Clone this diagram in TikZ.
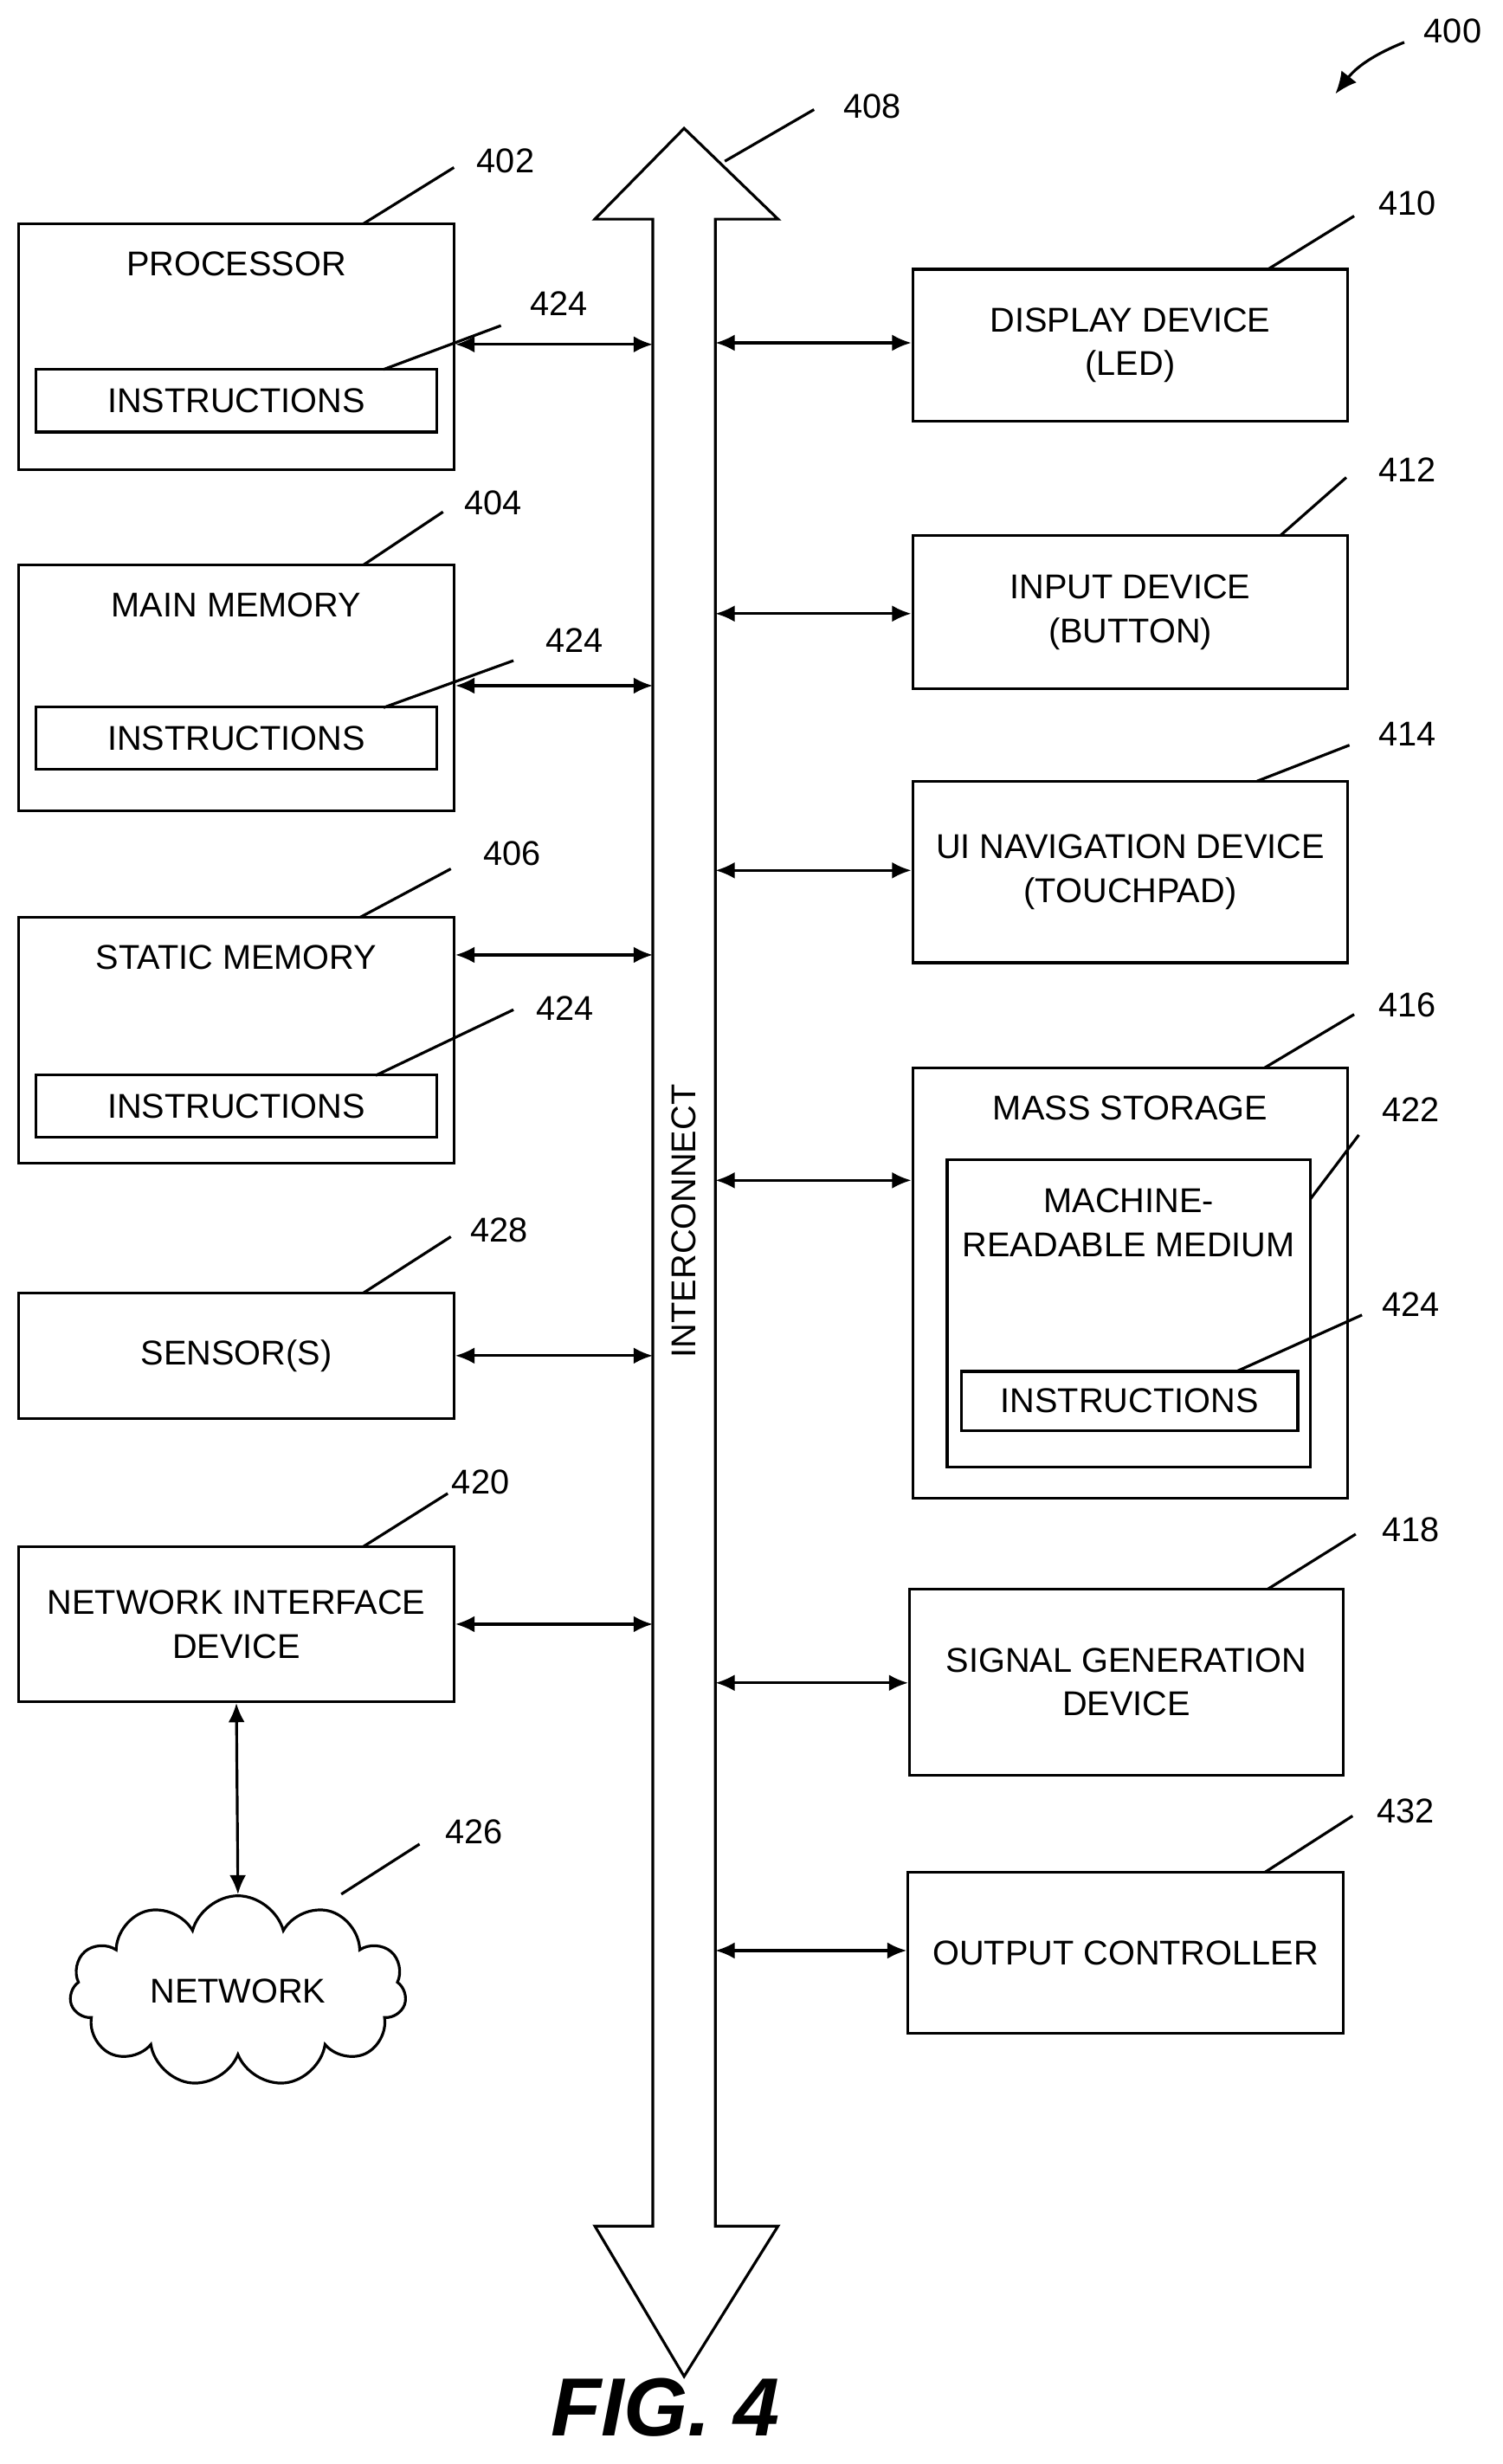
\documentclass[tikz,border=0pt]{standalone}
\usepackage{fontspec}
\setmainfont{Liberation Sans}
\usetikzlibrary{shapes.symbols, arrows.meta, positioning}
\tikzstyle{box} = [rectangle, draw, line width=1pt, minimum width=5.56cm, inner sep=0pt]
\tikzstyle{instr} = [rectangle, draw, line width=1pt, minimum width=5.12cm, minimum height=0.8cm, inner sep=0pt]
\tikzstyle{link} = [line width=1pt, <->, >={Latex[length=7pt,width=6pt]}]
\tikzstyle{lead} = [line width=1pt]
\tikzstyle{num} = [inner sep=1pt]
\begin{document}
\begin{tikzpicture}[x=0.02cm, y=-0.02cm, align=center, font=\fontsize{12.5}{16}\selectfont]
  \useasboundingbox (0,0) rectangle (960,1574);
  % interconnect
  \draw [line width=1pt, fill=white] (437,82) -- (497,140) -- (457,140) -- (457,1422) -- (497,1422) -- (437,1518) -- (380,1422) -- (417,1422) -- (417,140) -- (380,140) -- cycle;
  \node (bus) [rotate=90] at (437,780) {INTERCONNECT};
  \coordinate (busL) at (417,0);
  \coordinate (busR) at (457,0);
  % left column
  \node (proc) [box, minimum height=3.14cm] at (151,221.5) {};
  \node [below=0.25cm of proc.north] {PROCESSOR};
  \node (pins) [instr] at (151,256) {INSTRUCTIONS};
  \node (mmem) [box, minimum height=3.14cm] at (151,439.5) {};
  \node [below=0.25cm of mmem.north] {MAIN MEMORY};
  \node (mins) [instr] at (151,471.5) {INSTRUCTIONS};
  \node (smem) [box, minimum height=3.14cm] at (151,664.5) {};
  \node [below=0.25cm of smem.north] {STATIC MEMORY};
  \node (sins) [instr] at (151,706.5) {INSTRUCTIONS};
  \node (sens) [box, minimum height=1.6cm] at (151,866) {SENSOR(S)};
  \node (nic) [box, minimum height=1.98cm] at (151,1037.5) {NETWORK INTERFACE\\DEVICE};
  \node (net) [cloud, draw, line width=1pt, cloud puffs=11, aspect=2, minimum width=4.3cm, minimum height=2.3cm] at (152,1272) {NETWORK};
  % right column
  \node (disp) [box, minimum height=1.94cm] at (722,220.5) {DISPLAY DEVICE\\(LED)};
  \node (inp) [box, minimum height=1.96cm] at (722,391) {INPUT DEVICE\\(BUTTON)};
  \node (nav) [box, minimum height=2.32cm] at (722,557) {UI NAVIGATION DEVICE\\(TOUCHPAD)};
  \node (mass) [box, minimum height=5.5cm] at (722,819.5) {};
  \node [below=0.25cm of mass.north] {MASS STORAGE};
  \node (mrm) [rectangle, draw, line width=1pt, minimum width=4.64cm, minimum height=3.92cm] at (721,839) {};
  \node at (721,781) {MACHINE-\\READABLE MEDIUM};
  \node (mrins) [rectangle, draw, line width=1pt, minimum width=4.3cm, minimum height=0.76cm] at (721.5,895) {INSTRUCTIONS};
  \node (sig) [box, minimum width=5.54cm, minimum height=2.38cm] at (719.5,1074.5) {SIGNAL GENERATION\\DEVICE};
  \node (outc) [box, minimum height=2.06cm] at (719,1247.5) {OUTPUT CONTROLLER};
  % links
  \draw [link] (proc.east |- 0,220) -- (busL |- 0,220);
  \draw [link] (mmem.east |- 0,438) -- (busL |- 0,438);
  \draw [link] (smem.east |- 0,610) -- (busL |- 0,610);
  \draw [link] (sens.east) -- (busL |- sens.east);
  \draw [link] (nic.east) -- (busL |- nic.east);
  \draw [link] (nic.south) -- (net.north);
  \draw [link] (busR |- 0,219) -- (disp.west |- 0,219);
  \draw [link] (busR |- 0,392) -- (inp.west |- 0,392);
  \draw [link] (busR |- 0,556) -- (nav.west |- 0,556);
  \draw [link] (busR |- 0,754) -- (mass.west |- 0,754);
  \draw [link] (busR |- 0,1075) -- (sig.west |- 0,1075);
  \draw [link] (busR |- 0,1246) -- (outc.west |- 0,1246);
  % reference numerals
  \node (n400) [num] at (928,20) {400};
  \coordinate (n400tip) at (853,60);
  \draw [lead, -{Latex[length=8pt,width=7pt]}] ([xshift=-6pt,yshift=-4pt]n400.west) to[bend right=15] (n400tip);
  \node (n402) [num] at (323,103) {402};
  \draw [lead] (232,143) -- (290,107);
  \node (n424a) [num] at (357,194) {424};
  \draw [lead] (245,236) -- (320,208);
  \node (n404) [num] at (315,321) {404};
  \draw [lead] (232,361) -- (283,327);
  \node (n424b) [num] at (367,409) {424};
  \draw [lead] (245,452) -- (328,422);
  \node (n406) [num] at (327,545) {406};
  \draw [lead] (230,586) -- (288,555);
  \node (n424c) [num] at (361,644) {424};
  \draw [lead] (240,687) -- (328,645);
  \node (n428) [num] at (319,786) {428};
  \draw [lead] (232,826) -- (288,790);
  \node (n420) [num] at (307,947) {420};
  \draw [lead] (232,988) -- (286,954);
  \node (n426) [num] at (303,1170) {426};
  \draw [lead] (218,1210) -- (268,1178);
  \node (n408) [num] at (557,68) {408};
  \draw [lead] (463,103) -- (520,70);
  \node (n410) [num] at (899,130) {410};
  \draw [lead] (810,172) -- (865,138);
  \node (n412) [num] at (899,300) {412};
  \draw [lead] (818,342) -- (860,305);
  \node (n414) [num] at (899,469) {414};
  \draw [lead] (803,499) -- (862,476);
  \node (n416) [num] at (899,642) {416};
  \draw [lead] (808,682) -- (865,648);
  \node (n422) [num] at (901,709) {422};
  \draw [lead] (837,766) -- (868,725);
  \node (n424d) [num] at (901,833) {424};
  \draw [lead] (790,876) -- (870,840);
  \node (n418) [num] at (901,977) {418};
  \draw [lead] (810,1015) -- (866,980);
  \node (n432) [num] at (898,1157) {432};
  \draw [lead] (808,1196) -- (864,1160);
  \node (fig) at (425,1538) {\fontsize{30}{34}\selectfont\bfseries\itshape FIG. 4};
\end{tikzpicture}
\end{document}
